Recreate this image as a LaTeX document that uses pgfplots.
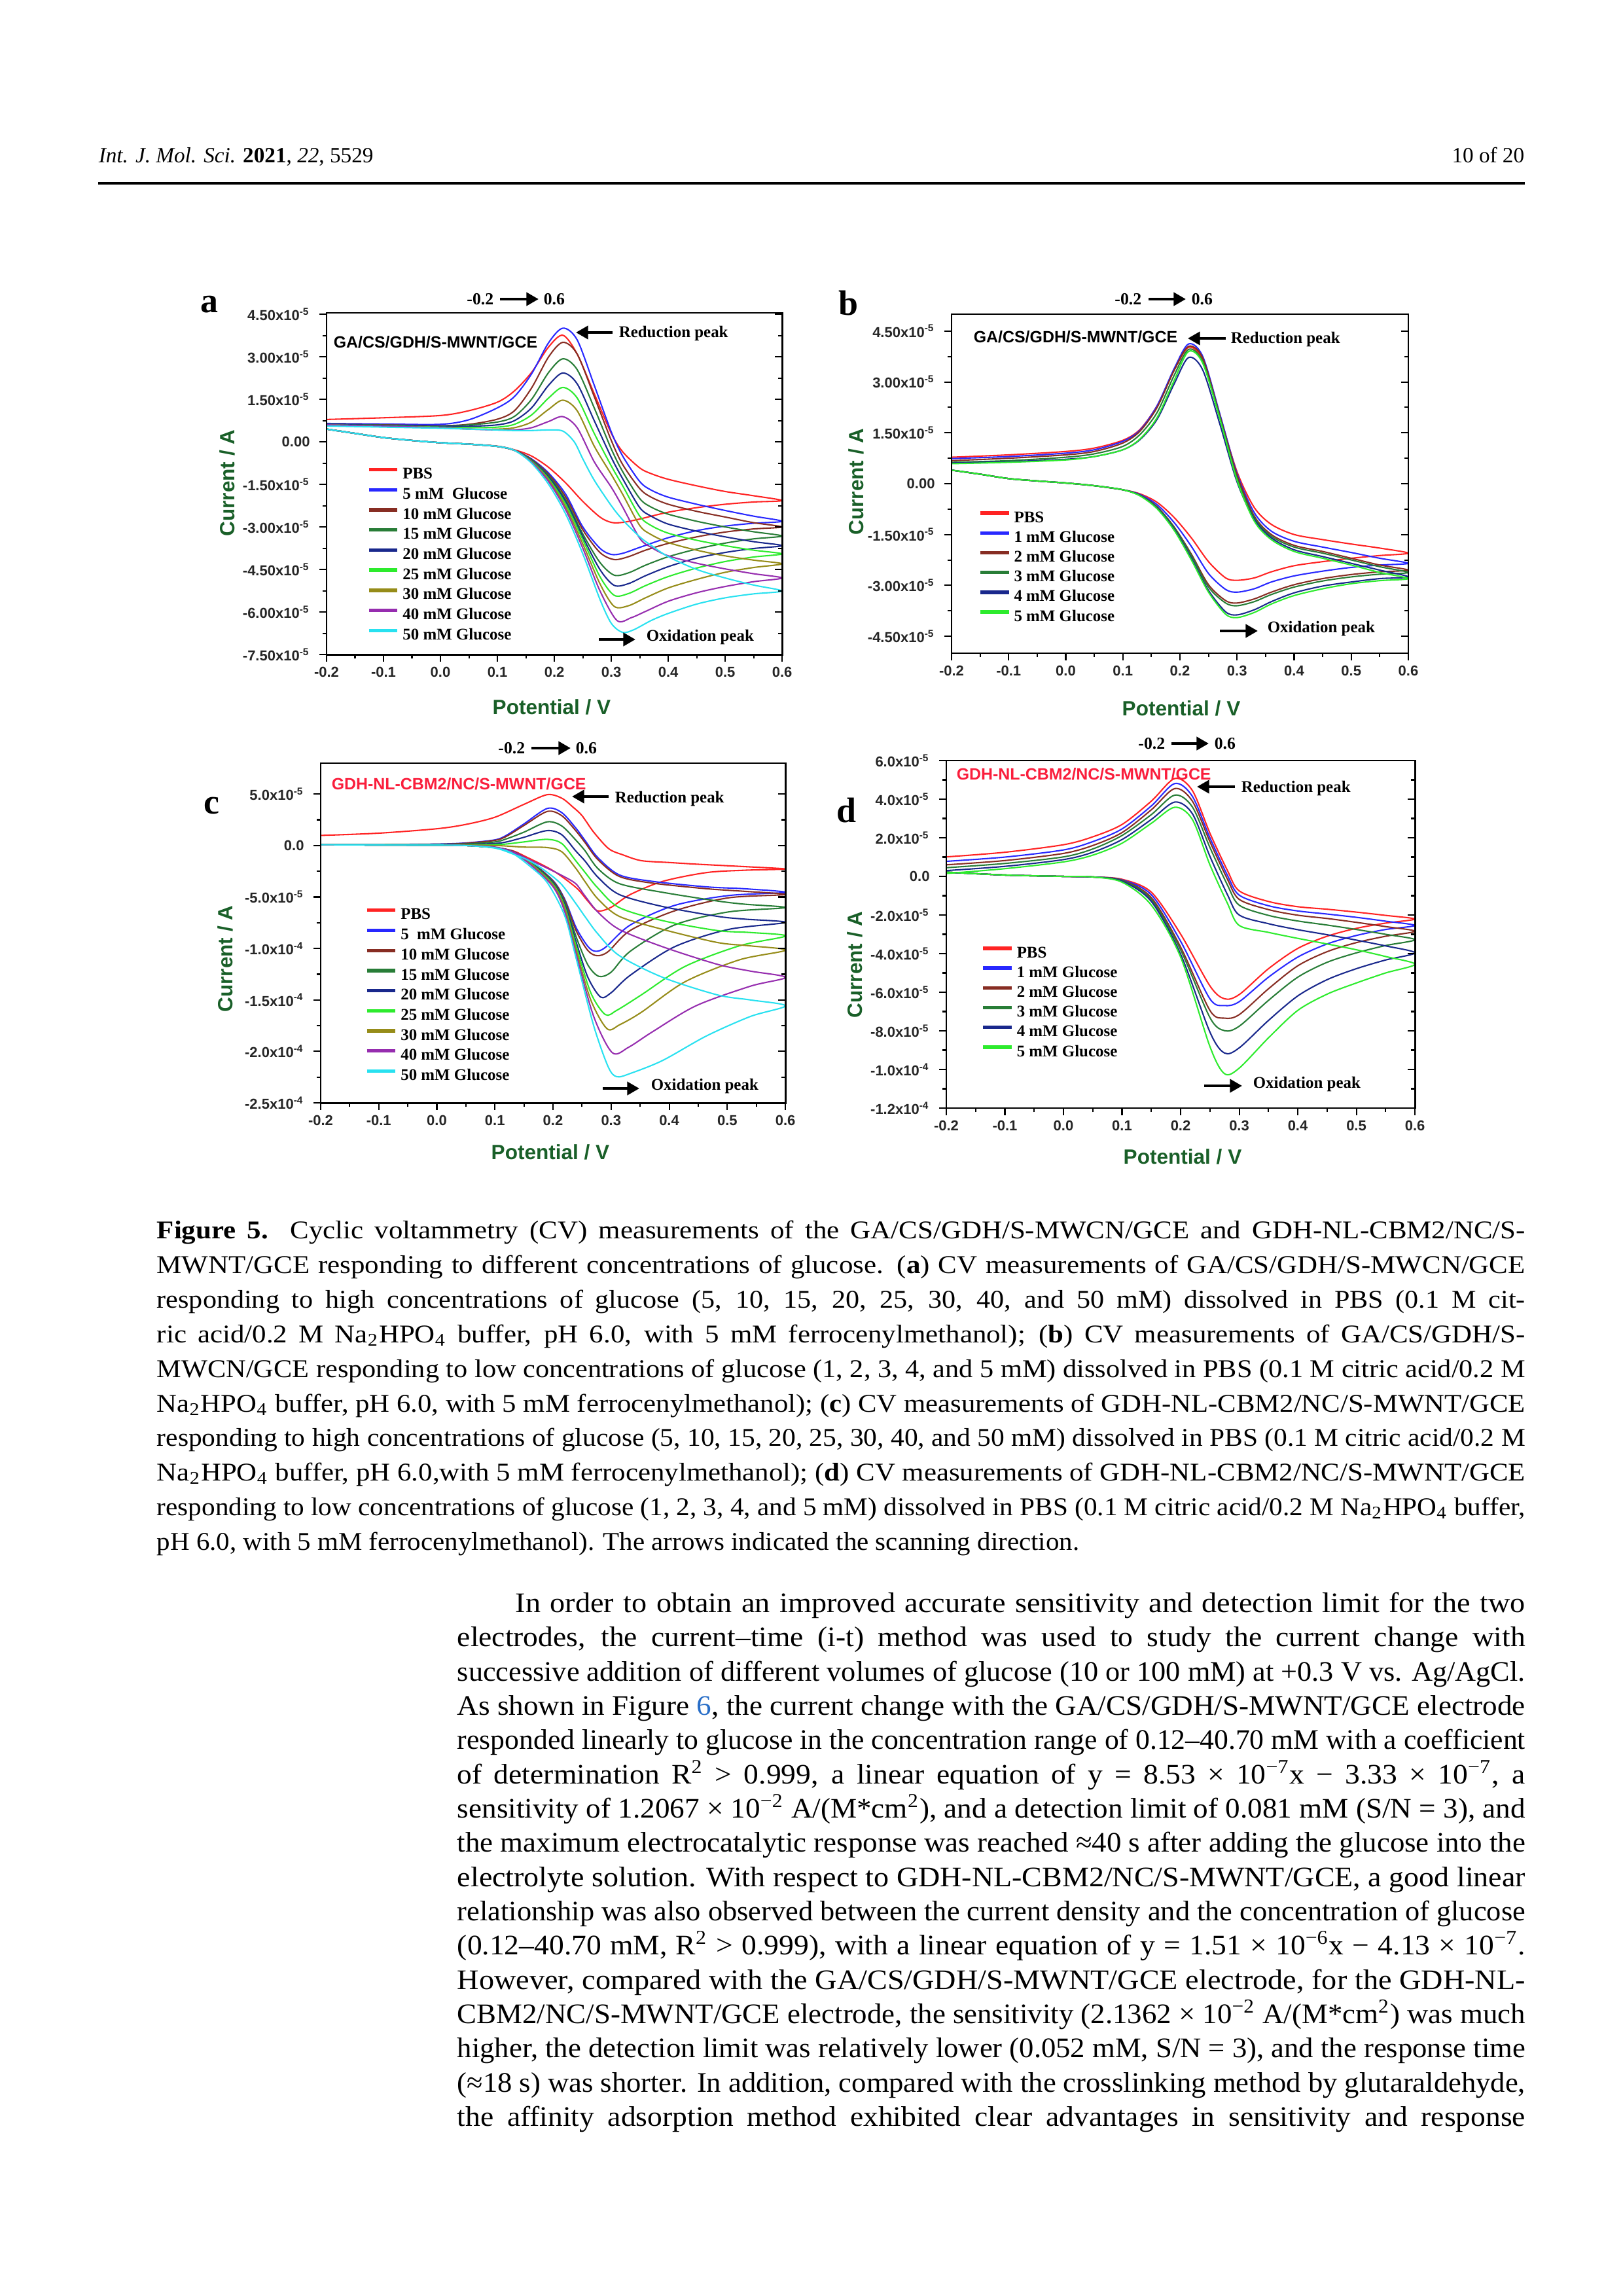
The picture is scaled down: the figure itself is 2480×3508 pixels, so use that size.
\documentclass[border=0pt]{standalone}
\usepackage{fontspec}
\setmainfont{Liberation Serif}
\setsansfont{Liberation Sans}
\usepackage{graphicx}
\usepackage{pgfplots}
\pgfplotsset{compat=1.18}
\usetikzlibrary{arrows.meta}
\newlength\px \setlength\px{0.0846774mm}
\newsavebox\jbox
\newlength\jtarget
\newlength\jw
\newcommand\jline[3][1.055]{\setlength\jtarget{#2}\sbox\jbox{#3}\setlength\jw{\wd\jbox}%
 \pgfmathsetmacro\jsc{min(\jtarget/\jw,#1)}%
 \pgfmathsetlength\jw{\jtarget/\jsc}%
 \scalebox{\jsc}[1]{\makebox[\jw][s]{#3}}}
\definecolor{cRed}{RGB}{255,35,35}
\definecolor{cBlue}{RGB}{40,40,255}
\definecolor{cBrown}{RGB}{135,45,35}
\definecolor{cDGreen}{RGB}{40,125,55}
\definecolor{cNavy}{RGB}{25,40,140}
\definecolor{cLGreen}{RGB}{45,235,45}
\definecolor{cOlive}{RGB}{150,140,25}
\definecolor{cPurple}{RGB}{150,45,175}
\definecolor{cCyan}{RGB}{40,225,240}
\definecolor{labGreen}{RGB}{25,95,40}
\definecolor{elRed}{RGB}{250,30,60}
\definecolor{linkBlue}{RGB}{40,110,200}
\pgfplotsset{
 cv/.style={
  scale only axis, anchor=north west, xmin=-0.2, xmax=0.6,
  xtick={-0.2,-0.1,0,0.1,0.2,0.3,0.4,0.5,0.6},
  xticklabels={-0.2,-0.1,0.0,0.1,0.2,0.3,0.4,0.5,0.6},
  minor x tick num=1, minor y tick num=1,
  tick align=outside, xtick pos=left, ytick pos=left,
  axis line style={line width=0.7pt},
  tick style={line width=0.5pt, black},
  major tick length=2.6pt, minor tick length=1.5pt,
  tick label style={font=\fontsize{5.3}{6}\selectfont\sffamily\bfseries, text=black!85},
  xticklabel style={yshift=1.5pt},
  every axis plot/.append style={line width=0.5pt, smooth, tension=0.5},
  legend cell align=left,
  legend image code/.code={\draw[line width=1.3pt] (0pt,1.9pt) -- (10.5pt,1.9pt);},
  legend style={draw=none, fill=none, anchor=north west,
    font=\fontsize{6}{7}\selectfont\rmfamily\bfseries, column sep=1.3pt,
    nodes={inner sep=0pt, text height=4.2pt, text depth=1.2pt}},
 },
 cvr/.style={
  scale only axis, anchor=north west, xmin=-0.2, xmax=0.6, xtick=\empty,
  minor y tick num=1, tick align=inside, ytick pos=right,
  yticklabel style={text opacity=0, opacity=0},
  axis line style={line width=0.7pt}, tick style={line width=0.5pt, black},
  major tick length=2.6pt, minor tick length=1.5pt,
 }
}
\tikzset{bigarrow/.style={line width=1.1pt, -{Triangle[length=4.5pt,width=4.8pt]}},
 pl/.style={font=\fontsize{13}{15}\selectfont\rmfamily\bfseries, inner sep=0pt},
 dirl/.style={font=\fontsize{6.2}{7}\selectfont\rmfamily\bfseries, inner sep=0pt},
 ann/.style={font=\fontsize{6}{7}\selectfont\rmfamily\bfseries, inner sep=0pt, anchor=west},
 el/.style={font=\fontsize{6}{7}\selectfont\sffamily\bfseries, inner sep=0pt, anchor=west},
 axl/.style={font=\fontsize{7.6}{9}\selectfont\sffamily\bfseries, text=labGreen, inner sep=0pt},
 captx/.style={anchor=base west, inner sep=0pt, font=\fontsize{9.4}{11}\selectfont},
 bodtx/.style={anchor=base west, inner sep=0pt, font=\fontsize{10.4}{12}\selectfont}}
\newcommand\sx[1]{\textsuperscript{#1}}
\begin{document}
\begin{tikzpicture}
\begin{scope}[x=0.0846774mm, y=-0.0846774mm]
\fill[white] (0,0) rectangle (2480,3508);
\coordinate (PA) at (499,478);
\coordinate (PB) at (1454,480);
\coordinate (PC) at (490,1166);
\coordinate (PD) at (1446,1162);
\end{scope}

% ---------------- panel a
\begin{axis}[cv, at={(PA)}, width=58.94mm, height=44.20mm, ymin=-7.5, ymax=4.55,
  ytick={-7.5,-6,-4.5,-3,-1.5,0,1.5,3,4.5},
  yticklabels={-7.50x10\sx{-5},-6.00x10\sx{-5},-4.50x10\sx{-5},-3.00x10\sx{-5},-1.50x10\sx{-5},0.00,1.50x10\sx{-5},3.00x10\sx{-5},4.50x10\sx{-5}},
  legend style={at={(0.070,0.565)}, row sep=2pt}]
\addplot[cRed] coordinates {(-0.2,0.45)(-0.15,0.3)(-0.1,0.15)(-0.05,0.05)(0,-0.03)(0.05,-0.08)(0.1,-0.15)(0.13,-0.28)(0.16,-0.5)(0.19,-0.9)(0.22,-1.45)(0.25,-2.1)(0.28,-2.65)(0.3,-2.84)(0.32,-2.84)(0.35,-2.72)(0.4,-2.48)(0.45,-2.32)(0.5,-2.2)(0.55,-2.12)(0.6,-2.07)(0.55,-1.9)(0.5,-1.75)(0.45,-1.55)(0.4,-1.32)(0.37,-1.12)(0.35,-0.92)(0.32,-0.35)(0.3,0.3)(0.27,1.7)(0.24,3.1)(0.215,3.76)(0.19,3.35)(0.16,2.45)(0.13,1.8)(0.1,1.4)(0.05,1.1)(0,0.93)(-0.1,0.85)(-0.2,0.79)};
\addplot[cBlue] coordinates {(-0.2,0.45)(-0.15,0.3)(-0.1,0.15)(-0.05,0.05)(0,-0.03)(0.05,-0.08)(0.1,-0.16)(0.13,-0.3)(0.16,-0.6)(0.19,-1.1)(0.22,-1.85)(0.25,-3.0)(0.28,-3.75)(0.3,-3.97)(0.32,-3.93)(0.35,-3.72)(0.4,-3.38)(0.45,-3.13)(0.5,-2.97)(0.55,-2.87)(0.6,-2.8)(0.55,-2.62)(0.5,-2.42)(0.45,-2.2)(0.4,-1.95)(0.37,-1.7)(0.35,-1.4)(0.32,-0.5)(0.3,0.35)(0.27,2.0)(0.24,3.6)(0.215,4.01)(0.19,3.5)(0.16,2.4)(0.13,1.6)(0.1,1.2)(0.05,0.78)(0,0.62)(-0.1,0.63)(-0.2,0.65)};
\addplot[cBrown] coordinates {(-0.2,0.45)(-0.15,0.3)(-0.1,0.15)(-0.05,0.05)(0,-0.03)(0.05,-0.08)(0.1,-0.16)(0.13,-0.3)(0.16,-0.62)(0.19,-1.15)(0.22,-1.95)(0.25,-3.1)(0.28,-3.9)(0.305,-4.15)(0.33,-4.05)(0.36,-3.82)(0.4,-3.58)(0.45,-3.35)(0.5,-3.18)(0.55,-3.07)(0.6,-3.0)(0.55,-2.85)(0.5,-2.65)(0.45,-2.45)(0.4,-2.2)(0.37,-1.95)(0.35,-1.65)(0.32,-0.8)(0.3,0.05)(0.27,1.6)(0.24,3.1)(0.215,3.51)(0.19,3.0)(0.16,1.9)(0.13,1.1)(0.1,0.8)(0.05,0.62)(0,0.57)(-0.1,0.6)(-0.2,0.62)};
\addplot[cDGreen] coordinates {(-0.2,0.45)(-0.15,0.3)(-0.1,0.15)(-0.05,0.05)(0,-0.03)(0.05,-0.08)(0.1,-0.16)(0.13,-0.3)(0.16,-0.64)(0.19,-1.2)(0.22,-2.05)(0.25,-3.25)(0.28,-4.25)(0.305,-4.7)(0.33,-4.62)(0.36,-4.35)(0.4,-4.05)(0.45,-3.78)(0.5,-3.57)(0.55,-3.42)(0.6,-3.32)(0.55,-3.17)(0.5,-3.0)(0.45,-2.8)(0.4,-2.55)(0.37,-2.3)(0.35,-2.0)(0.32,-1.05)(0.3,-0.25)(0.27,1.2)(0.24,2.55)(0.215,2.93)(0.19,2.45)(0.16,1.5)(0.13,0.9)(0.1,0.7)(0.05,0.6)(0,0.56)(-0.1,0.59)(-0.2,0.62)};
\addplot[cNavy] coordinates {(-0.2,0.45)(-0.15,0.3)(-0.1,0.15)(-0.05,0.05)(0,-0.03)(0.05,-0.08)(0.1,-0.16)(0.13,-0.3)(0.16,-0.66)(0.19,-1.25)(0.22,-2.12)(0.25,-3.35)(0.28,-4.5)(0.305,-5.06)(0.33,-5.0)(0.36,-4.72)(0.4,-4.4)(0.45,-4.1)(0.5,-3.9)(0.55,-3.76)(0.6,-3.66)(0.55,-3.52)(0.5,-3.35)(0.45,-3.15)(0.4,-2.9)(0.37,-2.62)(0.35,-2.32)(0.32,-1.3)(0.3,-0.55)(0.27,0.75)(0.24,2.05)(0.215,2.43)(0.19,2.0)(0.16,1.2)(0.13,0.75)(0.1,0.6)(0.05,0.55)(0,0.55)(-0.1,0.58)(-0.2,0.61)};
\addplot[cLGreen] coordinates {(-0.2,0.45)(-0.15,0.3)(-0.1,0.15)(-0.05,0.05)(0,-0.03)(0.05,-0.08)(0.1,-0.16)(0.13,-0.3)(0.16,-0.68)(0.19,-1.3)(0.22,-2.2)(0.25,-3.45)(0.28,-4.75)(0.305,-5.41)(0.33,-5.35)(0.36,-5.07)(0.4,-4.75)(0.45,-4.45)(0.5,-4.22)(0.55,-4.06)(0.6,-3.95)(0.55,-3.82)(0.5,-3.66)(0.45,-3.47)(0.4,-3.22)(0.37,-2.95)(0.35,-2.62)(0.32,-1.55)(0.3,-0.85)(0.27,0.3)(0.24,1.55)(0.215,1.92)(0.19,1.55)(0.16,0.95)(0.13,0.62)(0.1,0.52)(0.05,0.5)(0,0.52)(-0.1,0.56)(-0.2,0.6)};
\addplot[cOlive] coordinates {(-0.2,0.45)(-0.15,0.3)(-0.1,0.15)(-0.05,0.05)(0,-0.03)(0.05,-0.08)(0.1,-0.16)(0.13,-0.3)(0.16,-0.7)(0.19,-1.35)(0.22,-2.3)(0.25,-3.6)(0.28,-5.0)(0.305,-5.8)(0.33,-5.78)(0.36,-5.5)(0.4,-5.15)(0.45,-4.85)(0.5,-4.6)(0.55,-4.43)(0.6,-4.3)(0.55,-4.17)(0.5,-4.02)(0.45,-3.82)(0.4,-3.55)(0.37,-3.27)(0.35,-2.95)(0.32,-1.85)(0.3,-1.15)(0.27,-0.15)(0.24,1.1)(0.215,1.47)(0.19,1.15)(0.16,0.7)(0.13,0.5)(0.1,0.45)(0.05,0.45)(0,0.5)(-0.1,0.55)(-0.2,0.6)};
\addplot[cPurple] coordinates {(-0.2,0.45)(-0.15,0.3)(-0.1,0.15)(-0.05,0.05)(0,-0.03)(0.05,-0.08)(0.1,-0.16)(0.13,-0.3)(0.16,-0.72)(0.19,-1.4)(0.22,-2.4)(0.25,-3.75)(0.28,-5.25)(0.31,-6.3)(0.335,-6.2)(0.36,-5.98)(0.4,-5.62)(0.45,-5.32)(0.5,-5.1)(0.55,-4.93)(0.6,-4.8)(0.55,-4.65)(0.5,-4.48)(0.45,-4.28)(0.4,-4.02)(0.37,-3.72)(0.35,-3.4)(0.32,-2.3)(0.3,-1.6)(0.27,-0.7)(0.24,0.5)(0.215,0.89)(0.19,0.72)(0.16,0.5)(0.13,0.42)(0.1,0.42)(0.05,0.45)(0,0.5)(-0.1,0.55)(-0.2,0.6)};
\addplot[cCyan] coordinates {(-0.2,0.45)(-0.15,0.3)(-0.1,0.15)(-0.05,0.05)(0,-0.03)(0.05,-0.08)(0.1,-0.16)(0.13,-0.3)(0.16,-0.75)(0.19,-1.5)(0.22,-2.55)(0.25,-3.95)(0.28,-5.55)(0.3,-6.4)(0.32,-6.72)(0.34,-6.62)(0.37,-6.3)(0.4,-6.05)(0.45,-5.72)(0.5,-5.5)(0.55,-5.36)(0.6,-5.26)(0.55,-5.05)(0.5,-4.8)(0.45,-4.5)(0.4,-4.05)(0.37,-3.65)(0.35,-3.35)(0.32,-2.75)(0.3,-2.25)(0.27,-1.35)(0.25,-0.6)(0.235,0.0)(0.215,0.38)(0.19,0.42)(0.16,0.4)(0.13,0.4)(0.1,0.42)(0.05,0.45)(0,0.48)(-0.1,0.52)(-0.2,0.56)};
\legend{PBS,5 mM~~Glucose,10 mM Glucose,15 mM Glucose,20 mM Glucose,25 mM Glucose,30 mM Glucose,40 mM Glucose,50 mM Glucose}
\end{axis}
\begin{axis}[cvr, at={(PA)}, width=58.94mm, height=44.20mm, ymin=-7.5, ymax=4.55, ytick={-7.5,-6,-4.5,-3,-1.5,0,1.5,3,4.5}]
\end{axis}

% ---------------- panel b
\begin{axis}[cv, at={(PB)}, width=59.10mm, height=43.86mm, ymin=-5, ymax=5,
  ytick={-4.5,-3,-1.5,0,1.5,3,4.5},
  yticklabels={-4.50x10\sx{-5},-3.00x10\sx{-5},-1.50x10\sx{-5},0.00,1.50x10\sx{-5},3.00x10\sx{-5},4.50x10\sx{-5}},
  legend style={at={(0.040,0.437)}, row sep=1.87pt}]
\addplot[cRed] coordinates {(-0.2,0.4)(-0.15,0.28)(-0.1,0.15)(-0.05,0.08)(0,0.02)(0.05,-0.06)(0.1,-0.18)(0.13,-0.3)(0.16,-0.55)(0.19,-1.0)(0.22,-1.6)(0.25,-2.3)(0.28,-2.78)(0.3,-2.85)(0.33,-2.78)(0.36,-2.6)(0.4,-2.42)(0.45,-2.3)(0.5,-2.2)(0.55,-2.12)(0.6,-2.05)(0.55,-1.9)(0.5,-1.78)(0.45,-1.65)(0.4,-1.5)(0.36,-1.2)(0.33,-0.7)(0.3,0.35)(0.27,2.0)(0.24,3.65)(0.215,4.02)(0.19,3.35)(0.16,2.3)(0.13,1.6)(0.1,1.28)(0.05,1.05)(0,0.95)(-0.1,0.85)(-0.2,0.78)};
\addplot[cBlue] coordinates {(-0.2,0.4)(-0.15,0.28)(-0.1,0.15)(-0.05,0.08)(0,0.02)(0.05,-0.06)(0.1,-0.18)(0.13,-0.32)(0.16,-0.62)(0.19,-1.15)(0.22,-1.85)(0.25,-2.65)(0.28,-3.12)(0.3,-3.2)(0.33,-3.1)(0.36,-2.9)(0.4,-2.72)(0.45,-2.58)(0.5,-2.47)(0.55,-2.4)(0.6,-2.35)(0.55,-2.2)(0.5,-2.03)(0.45,-1.87)(0.4,-1.7)(0.36,-1.4)(0.33,-0.85)(0.3,0.3)(0.27,2.05)(0.24,3.75)(0.215,4.12)(0.19,3.4)(0.16,2.3)(0.13,1.58)(0.1,1.25)(0.05,1.0)(0,0.9)(-0.1,0.8)(-0.2,0.74)};
\addplot[cBrown] coordinates {(-0.2,0.4)(-0.15,0.28)(-0.1,0.15)(-0.05,0.08)(0,0.02)(0.05,-0.06)(0.1,-0.18)(0.13,-0.34)(0.16,-0.68)(0.19,-1.28)(0.22,-2.08)(0.25,-2.98)(0.28,-3.45)(0.3,-3.52)(0.33,-3.4)(0.36,-3.2)(0.4,-2.98)(0.45,-2.8)(0.5,-2.68)(0.55,-2.6)(0.6,-2.55)(0.55,-2.4)(0.5,-2.2)(0.45,-2.0)(0.4,-1.82)(0.36,-1.5)(0.33,-0.95)(0.3,0.25)(0.27,2.0)(0.24,3.7)(0.215,4.05)(0.19,3.35)(0.16,2.25)(0.13,1.55)(0.1,1.2)(0.05,0.95)(0,0.85)(-0.1,0.75)(-0.2,0.68)};
\addplot[cDGreen] coordinates {(-0.2,0.4)(-0.15,0.28)(-0.1,0.15)(-0.05,0.08)(0,0.02)(0.05,-0.06)(0.1,-0.18)(0.13,-0.34)(0.16,-0.7)(0.19,-1.3)(0.22,-2.12)(0.25,-3.05)(0.28,-3.52)(0.3,-3.6)(0.33,-3.48)(0.36,-3.27)(0.4,-3.05)(0.45,-2.87)(0.5,-2.75)(0.55,-2.67)(0.6,-2.62)(0.55,-2.45)(0.5,-2.25)(0.45,-2.05)(0.4,-1.87)(0.36,-1.55)(0.33,-1.0)(0.3,0.15)(0.27,1.95)(0.24,3.6)(0.215,3.96)(0.19,3.2)(0.16,2.1)(0.13,1.45)(0.1,1.1)(0.05,0.88)(0,0.78)(-0.1,0.68)(-0.2,0.63)};
\addplot[cNavy] coordinates {(-0.2,0.4)(-0.15,0.28)(-0.1,0.15)(-0.05,0.08)(0,0.02)(0.05,-0.06)(0.1,-0.18)(0.13,-0.35)(0.16,-0.72)(0.19,-1.35)(0.22,-2.2)(0.25,-3.15)(0.28,-3.78)(0.3,-3.87)(0.33,-3.72)(0.36,-3.48)(0.4,-3.22)(0.45,-3.02)(0.5,-2.9)(0.55,-2.8)(0.6,-2.75)(0.55,-2.55)(0.5,-2.35)(0.45,-2.15)(0.4,-1.95)(0.36,-1.6)(0.33,-1.05)(0.3,0.05)(0.27,1.75)(0.24,3.35)(0.215,3.72)(0.19,2.95)(0.16,1.9)(0.13,1.3)(0.1,1.0)(0.05,0.8)(0,0.72)(-0.1,0.65)(-0.2,0.61)};
\addplot[cLGreen] coordinates {(-0.2,0.4)(-0.15,0.28)(-0.1,0.15)(-0.05,0.08)(0,0.02)(0.05,-0.06)(0.1,-0.18)(0.13,-0.36)(0.16,-0.74)(0.19,-1.38)(0.22,-2.25)(0.25,-3.2)(0.28,-3.85)(0.3,-3.95)(0.33,-3.8)(0.36,-3.55)(0.4,-3.3)(0.45,-3.1)(0.5,-2.95)(0.55,-2.86)(0.6,-2.8)(0.55,-2.62)(0.5,-2.4)(0.45,-2.2)(0.4,-2.0)(0.36,-1.65)(0.33,-1.1)(0.3,0.1)(0.27,1.9)(0.24,3.55)(0.215,3.9)(0.19,3.05)(0.16,1.95)(0.13,1.32)(0.1,1.0)(0.05,0.8)(0,0.7)(-0.1,0.63)(-0.2,0.59)};
\legend{PBS,1 mM Glucose,2 mM Glucose,3 mM Glucose,4 mM Glucose,5 mM Glucose}
\end{axis}
\begin{axis}[cvr, at={(PB)}, width=59.10mm, height=43.86mm, ymin=-5, ymax=5, ytick={-4.5,-3,-1.5,0,1.5,3,4.5}]
\end{axis}

% ---------------- panel c
\begin{axis}[cv, at={(PC)}, width=60.12mm, height=43.95mm, ymin=-25, ymax=8,
  ytick={-25,-20,-15,-10,-5,0,5},
  yticklabels={-2.5x10\sx{-4},-2.0x10\sx{-4},-1.5x10\sx{-4},-1.0x10\sx{-4},-5.0x10\sx{-5},0.0,5.0x10\sx{-5}},
  legend style={at={(0.077,0.591)}, row sep=2pt}]
\addplot[cRed] coordinates {(-0.2,0.08)(-0.1,0.05)(0,0.03)(0.05,0)(0.1,-0.2)(0.13,-0.5)(0.15,-1.0)(0.2,-2.44)(0.24,-4.1)(0.26,-5.4)(0.277,-6.35)(0.3,-6.0)(0.333,-4.76)(0.389,-3.48)(0.464,-2.63)(0.53,-2.4)(0.6,-2.28)(0.53,-2.05)(0.45,-1.82)(0.4,-1.65)(0.352,-1.47)(0.32,-0.9)(0.296,-0.31)(0.27,1.3)(0.25,2.9)(0.235,3.7)(0.215,4.6)(0.19,4.94)(0.15,4.0)(0.1,2.75)(0.05,2.05)(0,1.63)(-0.1,1.2)(-0.2,0.98)};
\addplot[cBlue] coordinates {(-0.2,0.08)(-0.1,0.05)(0,0.03)(0.05,0)(0.1,-0.2)(0.13,-0.55)(0.16,-1.5)(0.2,-3.4)(0.22,-5.2)(0.24,-8.0)(0.26,-9.8)(0.273,-10.27)(0.29,-9.9)(0.333,-7.72)(0.409,-5.82)(0.502,-4.86)(0.6,-4.55)(0.53,-4.2)(0.465,-4.02)(0.371,-3.48)(0.314,-2.85)(0.277,-1.16)(0.255,0.5)(0.239,1.71)(0.215,3.2)(0.19,3.6)(0.15,2.1)(0.12,1.0)(0.1,0.55)(0.05,0.25)(0,0.14)(-0.1,0.1)(-0.2,0.08)};
\addplot[cBrown] coordinates {(-0.2,0.08)(-0.1,0.05)(0,0.03)(0.05,0)(0.1,-0.2)(0.13,-0.55)(0.16,-1.5)(0.2,-3.45)(0.22,-5.3)(0.24,-8.3)(0.26,-10.2)(0.276,-10.7)(0.295,-10.3)(0.333,-8.25)(0.409,-6.35)(0.502,-5.08)(0.6,-4.76)(0.53,-4.45)(0.465,-4.2)(0.371,-3.65)(0.314,-3.0)(0.277,-1.35)(0.255,0.3)(0.239,1.45)(0.215,2.9)(0.19,3.31)(0.15,1.95)(0.12,0.9)(0.1,0.5)(0.05,0.22)(0,0.12)(-0.1,0.1)(-0.2,0.08)};
\addplot[cDGreen] coordinates {(-0.2,0.08)(-0.1,0.05)(0,0.03)(0.05,0)(0.1,-0.2)(0.13,-0.58)(0.16,-1.55)(0.2,-3.55)(0.22,-5.5)(0.24,-8.9)(0.26,-11.6)(0.279,-12.71)(0.3,-12.3)(0.333,-10.27)(0.409,-7.72)(0.502,-6.45)(0.6,-6.03)(0.53,-5.7)(0.483,-5.39)(0.389,-4.55)(0.314,-3.7)(0.277,-2.22)(0.255,-0.5)(0.239,0.54)(0.215,1.9)(0.19,2.3)(0.15,1.3)(0.12,0.65)(0.1,0.35)(0.05,0.15)(0,0.1)(-0.1,0.09)(-0.2,0.08)};
\addplot[cNavy] coordinates {(-0.2,0.08)(-0.1,0.05)(0,0.03)(0.05,0)(0.1,-0.2)(0.13,-0.6)(0.16,-1.6)(0.2,-3.65)(0.22,-5.7)(0.24,-9.4)(0.26,-12.8)(0.282,-14.72)(0.3,-14.3)(0.333,-12.6)(0.409,-9.84)(0.502,-8.15)(0.6,-7.47)(0.53,-7.15)(0.483,-6.88)(0.389,-5.93)(0.314,-4.76)(0.277,-3.06)(0.255,-1.5)(0.239,-0.52)(0.215,1.05)(0.19,1.45)(0.15,0.8)(0.12,0.35)(0.1,0.2)(0.05,0.1)(0,0.08)(-0.1,0.08)(-0.2,0.08)};
\addplot[cLGreen] coordinates {(-0.2,0.08)(-0.1,0.05)(0,0.03)(0.05,0)(0.1,-0.2)(0.13,-0.62)(0.16,-1.65)(0.2,-3.75)(0.22,-5.9)(0.24,-9.8)(0.265,-14.3)(0.29,-16.42)(0.31,-16.0)(0.352,-14.51)(0.427,-11.75)(0.521,-9.74)(0.6,-8.79)(0.54,-8.45)(0.483,-8.26)(0.389,-7.3)(0.314,-6.03)(0.277,-4.12)(0.255,-2.6)(0.239,-1.47)(0.215,0.2)(0.19,0.6)(0.15,0.35)(0.12,0.15)(0.1,0.1)(0.05,0.06)(0,0.06)(-0.1,0.07)(-0.2,0.08)};
\addplot[cOlive] coordinates {(-0.2,0.08)(-0.1,0.05)(0,0.03)(0.05,0)(0.1,-0.2)(0.13,-0.64)(0.16,-1.7)(0.2,-3.85)(0.22,-6.1)(0.24,-10.2)(0.265,-15.0)(0.293,-17.8)(0.315,-17.4)(0.352,-16.2)(0.427,-13.24)(0.521,-11.1)(0.6,-10.17)(0.54,-9.75)(0.483,-9.42)(0.389,-8.15)(0.314,-6.88)(0.277,-5.17)(0.255,-3.5)(0.239,-2.2)(0.215,-0.6)(0.19,-0.2)(0.15,-0.15)(0.12,-0.05)(0.1,0.0)(0.05,0.04)(0,0.05)(-0.1,0.07)(-0.2,0.08)};
\addplot[cPurple] coordinates {(-0.2,0.08)(-0.1,0.05)(0,0.03)(0.05,0)(0.1,-0.2)(0.13,-0.66)(0.16,-1.8)(0.2,-4.0)(0.22,-6.4)(0.24,-10.6)(0.27,-16.6)(0.302,-20.12)(0.33,-19.6)(0.371,-18.1)(0.446,-15.57)(0.54,-13.66)(0.6,-12.81)(0.54,-12.2)(0.483,-11.54)(0.389,-9.84)(0.314,-8.15)(0.277,-6.45)(0.255,-4.9)(0.239,-3.7)(0.215,-2.9)(0.19,-2.2)(0.16,-1.4)(0.13,-0.6)(0.1,-0.15)(0.05,0.0)(0,0.04)(-0.1,0.07)(-0.2,0.08)};
\addplot[cCyan] coordinates {(-0.2,0.08)(-0.1,0.05)(0,0.03)(0.05,0)(0.1,-0.22)(0.13,-0.75)(0.16,-2.0)(0.19,-3.6)(0.22,-6.8)(0.24,-11.0)(0.27,-17.5)(0.295,-21.5)(0.31,-22.46)(0.335,-22.1)(0.389,-20.87)(0.464,-18.5)(0.54,-16.6)(0.6,-15.57)(0.54,-15.0)(0.483,-14.51)(0.389,-12.81)(0.314,-10.69)(0.277,-8.57)(0.255,-6.9)(0.239,-5.61)(0.215,-3.8)(0.19,-2.6)(0.16,-1.5)(0.13,-0.8)(0.1,-0.25)(0.05,0.0)(0,0.04)(-0.1,0.07)(-0.2,0.08)};
\legend{PBS,5~~mM Glucose,10 mM Glucose,15 mM Glucose,20 mM Glucose,25 mM Glucose,30 mM Glucose,40 mM Glucose,50 mM Glucose}
\end{axis}
\begin{axis}[cvr, at={(PC)}, width=60.12mm, height=43.95mm, ymin=-25, ymax=8, ytick={-25,-20,-15,-10,-5,0,5}]
\end{axis}

% ---------------- panel d
\begin{axis}[cv, at={(PD)}, width=60.63mm, height=44.96mm, ymin=-12, ymax=6,
  ytick={-12,-10,-8,-6,-4,-2,0,2,4,6},
  yticklabels={-1.2x10\sx{-4},-1.0x10\sx{-4},-8.0x10\sx{-5},-6.0x10\sx{-5},-4.0x10\sx{-5},-2.0x10\sx{-5},0.0,2.0x10\sx{-5},4.0x10\sx{-5},6.0x10\sx{-5}},
  legend style={at={(0.056,0.483)}, row sep=1.87pt}]
\addplot[cRed] coordinates {(-0.2,0.22)(-0.1,0.07)(0,0.0)(0.05,-0.03)(0.1,-0.15)(0.15,-0.82)(0.2,-2.99)(0.25,-5.67)(0.275,-6.34)(0.3,-6.12)(0.35,-4.78)(0.4,-3.73)(0.45,-3.1)(0.5,-2.69)(0.55,-2.42)(0.6,-2.21)(0.55,-2.02)(0.5,-1.85)(0.45,-1.7)(0.4,-1.57)(0.35,-1.3)(0.3,-0.75)(0.28,0.3)(0.25,2.24)(0.22,4.45)(0.19,5.07)(0.15,3.9)(0.1,2.69)(0.05,2.05)(0,1.64)(-0.1,1.25)(-0.2,1.01)};
\addplot[cBlue] coordinates {(-0.2,0.22)(-0.1,0.07)(0,0.0)(0.05,-0.03)(0.1,-0.18)(0.15,-0.95)(0.2,-3.36)(0.25,-6.34)(0.275,-6.69)(0.3,-6.49)(0.35,-5.22)(0.4,-4.18)(0.45,-3.5)(0.5,-3.06)(0.55,-2.75)(0.6,-2.54)(0.55,-2.32)(0.5,-2.12)(0.45,-1.95)(0.4,-1.79)(0.35,-1.52)(0.3,-0.97)(0.28,0.05)(0.25,2.0)(0.22,4.15)(0.19,4.81)(0.15,3.65)(0.1,2.46)(0.05,1.8)(0,1.37)(-0.1,1.0)(-0.2,0.78)};
\addplot[cBrown] coordinates {(-0.2,0.22)(-0.1,0.07)(0,0.0)(0.05,-0.03)(0.1,-0.2)(0.15,-1.1)(0.2,-3.66)(0.25,-6.94)(0.275,-7.34)(0.3,-7.16)(0.35,-5.82)(0.4,-4.63)(0.45,-3.9)(0.5,-3.43)(0.55,-3.1)(0.6,-2.84)(0.55,-2.6)(0.5,-2.38)(0.45,-2.18)(0.4,-2.01)(0.35,-1.72)(0.3,-1.19)(0.28,-0.15)(0.25,1.8)(0.22,3.9)(0.19,4.55)(0.15,3.45)(0.1,2.27)(0.05,1.6)(0,1.19)(-0.1,0.82)(-0.2,0.6)};
\addplot[cDGreen] coordinates {(-0.2,0.22)(-0.1,0.07)(0,0.0)(0.05,-0.03)(0.1,-0.22)(0.15,-1.2)(0.2,-3.81)(0.25,-7.31)(0.275,-7.99)(0.3,-7.76)(0.35,-6.42)(0.4,-5.22)(0.45,-4.45)(0.5,-3.96)(0.55,-3.58)(0.6,-3.28)(0.55,-3.0)(0.5,-2.75)(0.45,-2.52)(0.4,-2.31)(0.35,-2.02)(0.3,-1.49)(0.28,-0.45)(0.25,1.5)(0.22,3.6)(0.19,4.21)(0.15,3.2)(0.1,2.12)(0.05,1.42)(0,1.01)(-0.1,0.67)(-0.2,0.45)};
\addplot[cNavy] coordinates {(-0.2,0.22)(-0.1,0.07)(0,0.0)(0.05,-0.03)(0.1,-0.25)(0.15,-1.3)(0.2,-4.03)(0.25,-8.06)(0.275,-9.15)(0.3,-8.88)(0.35,-7.46)(0.4,-6.19)(0.45,-5.35)(0.5,-4.78)(0.55,-4.33)(0.6,-3.96)(0.55,-3.6)(0.5,-3.3)(0.45,-3.02)(0.4,-2.76)(0.35,-2.45)(0.3,-2.0)(0.28,-0.95)(0.25,1.04)(0.22,3.25)(0.19,3.85)(0.15,2.95)(0.1,1.91)(0.05,1.25)(0,0.87)(-0.1,0.52)(-0.2,0.3)};
\addplot[cLGreen] coordinates {(-0.2,0.22)(-0.1,0.07)(0,0.0)(0.05,-0.03)(0.1,-0.3)(0.15,-1.49)(0.2,-4.18)(0.25,-8.81)(0.275,-10.22)(0.3,-9.93)(0.35,-8.36)(0.4,-6.94)(0.45,-6.1)(0.5,-5.52)(0.55,-5.0)(0.6,-4.55)(0.55,-4.15)(0.5,-3.8)(0.45,-3.5)(0.4,-3.21)(0.35,-2.9)(0.3,-2.54)(0.28,-1.4)(0.25,0.6)(0.22,2.95)(0.19,3.58)(0.15,2.75)(0.1,1.72)(0.05,1.1)(0,0.75)(-0.1,0.4)(-0.2,0.15)};
\legend{PBS,1 mM Glucose,2 mM Glucose,3 mM Glucose,4 mM Glucose,5 mM Glucose}
\end{axis}
\begin{axis}[cvr, at={(PD)}, width=60.63mm, height=44.96mm, ymin=-12, ymax=6, ytick={-12,-10,-8,-6,-4,-2,0,2,4,6}]
\end{axis}

\begin{scope}[x=0.0846774mm, y=-0.0846774mm]
% header
\node[anchor=base west, inner sep=0pt, font=\fontsize{8}{10}\selectfont] at (150,248) {\textit{Int. J. Mol. Sci.} \textbf{2021}, \textit{22}, 5529};
\node[anchor=base east, inner sep=0pt, font=\fontsize{8}{10}\selectfont] at (2330,248) {10 of 20};
\draw[line width=0.8pt] (150,280) -- (2330,280);
% panel letters
\node[pl] at (320,465) {a};
\node[pl] at (1296,463) {b};
\node[pl] at (323,1231) {c};
\node[pl] at (1293,1238) {d};
% scan direction
\node[dirl, anchor=east] at (755,457) {-0.2}; \draw[bigarrow] (764,457) -- (823,457); \node[dirl, anchor=west] at (830,457) {0.6};
\node[dirl, anchor=east] at (1745,457) {-0.2}; \draw[bigarrow] (1755,457) -- (1812,457); \node[dirl, anchor=west] at (1820,457) {0.6};
\node[dirl, anchor=east] at (803,1143) {-0.2}; \draw[bigarrow] (812,1143) -- (872,1143); \node[dirl, anchor=west] at (879,1143) {0.6};
\node[dirl, anchor=east] at (1781,1136) {-0.2}; \draw[bigarrow] (1790,1136) -- (1847,1136); \node[dirl, anchor=west] at (1855,1136) {0.6};
% electrode labels
\node[el] at (509,523) {GA/CS/GDH/S-MWNT/GCE};
\node[el] at (1487,515) {GA/CS/GDH/S-MWNT/GCE};
\node[el, text=elRed] at (506,1198) {GDH-NL-CBM2/NC/S-MWNT/GCE};
\node[el, text=elRed] at (1461,1183) {GDH-NL-CBM2/NC/S-MWNT/GCE};
% peaks
\draw[bigarrow] (936,508) -- (880,508); \node[ann] at (945,510) {Reduction peak};
\draw[bigarrow] (915,977) -- (971,977); \node[ann] at (987,973) {Oxidation peak};
\draw[bigarrow] (1873,517) -- (1815,517); \node[ann] at (1880,519) {Reduction peak};
\draw[bigarrow] (1864,964) -- (1922,964); \node[ann] at (1936,960) {Oxidation peak};
\draw[bigarrow] (930,1217) -- (874,1217); \node[ann] at (939,1220) {Reduction peak};
\draw[bigarrow] (921,1663) -- (977,1663); \node[ann] at (994,1659) {Oxidation peak};
\draw[bigarrow] (1887,1202) -- (1829,1202); \node[ann] at (1896,1204) {Reduction peak};
\draw[bigarrow] (1840,1659) -- (1898,1659); \node[ann] at (1914,1656) {Oxidation peak};
% axis labels
\node[axl] at (843,1080) {Potential / V};
\node[axl] at (1805,1082) {Potential / V};
\node[axl] at (841,1760) {Potential / V};
\node[axl] at (1807,1767) {Potential / V};
\node[axl, rotate=90] at (347,738) {Current / A};
\node[axl, rotate=90] at (1308,736) {Current / A};
\node[axl, rotate=90] at (344,1465) {Current / A};
\node[axl, rotate=90] at (1306,1474) {Current / A};
% caption
\node[captx] at (239,1892) {\jline[1.10]{2091\px}{\textbf{Figure 5.} Cyclic voltammetry (CV) measurements of the GA/CS/GDH/S-MWCN/GCE and GDH-NL-CBM2/NC/S-}};
\node[captx] at (239,1945) {\jline[1.10]{2091\px}{MWNT/GCE responding to different concentrations of glucose. (\textbf{a}) CV measurements of GA/CS/GDH/S-MWCN/GCE}};
\node[captx] at (239,1998) {\jline[1.08]{2091\px}{responding to high concentrations of glucose (5, 10, 15, 20, 25, 30, 40, and 50 mM) dissolved in PBS (0.1 M cit-}};
\node[captx] at (239,2051) {\jline[1.10]{2091\px}{ric acid/0.2 M Na\textsubscript{2}HPO\textsubscript{4} buffer, pH 6.0, with 5 mM ferrocenylmethanol); (\textbf{b}) CV measurements of GA/CS/GDH/S-}};
\node[captx] at (239,2104) {\jline[1.10]{2091\px}{MWCN/GCE responding to low concentrations of glucose (1, 2, 3, 4, and 5 mM) dissolved in PBS (0.1 M citric acid/0.2 M}};
\node[captx] at (239,2157) {\jline[1.10]{2091\px}{Na\textsubscript{2}HPO\textsubscript{4} buffer, pH 6.0, with 5 mM ferrocenylmethanol); (\textbf{c}) CV measurements of GDH-NL-CBM2/NC/S-MWNT/GCE}};
\node[captx] at (239,2209) {\jline[1.10]{2091\px}{responding to high concentrations of glucose (5, 10, 15, 20, 25, 30, 40, and 50 mM) dissolved in PBS (0.1 M citric acid/0.2 M}};
\node[captx] at (239,2262) {\jline[1.10]{2091\px}{Na\textsubscript{2}HPO\textsubscript{4} buffer, pH 6.0,with 5 mM ferrocenylmethanol); (\textbf{d}) CV measurements of GDH-NL-CBM2/NC/S-MWNT/GCE}};
\node[captx] at (239,2315) {\jline[1.10]{2091\px}{responding to low concentrations of glucose (1, 2, 3, 4, and 5 mM) dissolved in PBS (0.1 M citric acid/0.2 M Na\textsubscript{2}HPO\textsubscript{4} buffer,}};
\node[captx] at (239,2368) {\scalebox{1.049}[1]{pH 6.0, with 5 mM ferrocenylmethanol). The arrows indicated the scanning direction.}};
% body
\node[bodtx] at (787,2463) {\jline[1.07]{1543\px}{In order to obtain an improved accurate sensitivity and detection limit for the two}};
\node[bodtx] at (698,2515) {\jline{1632\px}{electrodes, the current–time (i-t) method was used to study the current change with}};
\node[bodtx] at (698,2568) {\jline{1632\px}{successive addition of different volumes of glucose (10 or 100 mM) at +0.3 V vs. Ag/AgCl.}};
\node[bodtx] at (698,2620) {\jline{1632\px}{As shown in Figure \textcolor{linkBlue}{6}, the current change with the GA/CS/GDH/S-MWNT/GCE electrode}};
\node[bodtx] at (698,2672) {\jline{1632\px}{responded linearly to glucose in the concentration range of 0.12–40.70 mM with a coefficient}};
\node[bodtx] at (698,2725) {\jline{1632\px}{of determination R\textsuperscript{2} > 0.999, a linear equation of y = 8.53 × 10\textsuperscript{−7}x − 3.33 × 10\textsuperscript{−7}, a}};
\node[bodtx] at (698,2777) {\jline{1632\px}{sensitivity of 1.2067 × 10\textsuperscript{−2} A/(M*cm\textsuperscript{2}), and a detection limit of 0.081 mM (S/N = 3), and}};
\node[bodtx] at (698,2829) {\jline{1632\px}{the maximum electrocatalytic response was reached ≈40 s after adding the glucose into the}};
\node[bodtx] at (698,2882) {\jline[1.07]{1632\px}{electrolyte solution. With respect to GDH-NL-CBM2/NC/S-MWNT/GCE, a good linear}};
\node[bodtx] at (698,2934) {\jline{1632\px}{relationship was also observed between the current density and the concentration of glucose}};
\node[bodtx] at (698,2986) {\jline{1632\px}{(0.12–40.70 mM, R\textsuperscript{2} > 0.999), with a linear equation of y = 1.51 × 10\textsuperscript{−6}x − 4.13 × 10\textsuperscript{−7}.}};
\node[bodtx] at (698,3039) {\jline[1.07]{1632\px}{However, compared with the GA/CS/GDH/S-MWNT/GCE electrode, for the GDH-NL-}};
\node[bodtx] at (698,3091) {\jline{1632\px}{CBM2/NC/S-MWNT/GCE electrode, the sensitivity (2.1362 × 10\textsuperscript{−2} A/(M*cm\textsuperscript{2}) was much}};
\node[bodtx] at (698,3143) {\jline{1632\px}{higher, the detection limit was relatively lower (0.052 mM, S/N = 3), and the response time}};
\node[bodtx] at (698,3196) {\jline{1632\px}{(≈18 s) was shorter. In addition, compared with the crosslinking method by glutaraldehyde,}};
\node[bodtx] at (698,3248) {\jline{1632\px}{the affinity adsorption method exhibited clear advantages in sensitivity and response}};
\end{scope}
\end{tikzpicture}
\end{document}
